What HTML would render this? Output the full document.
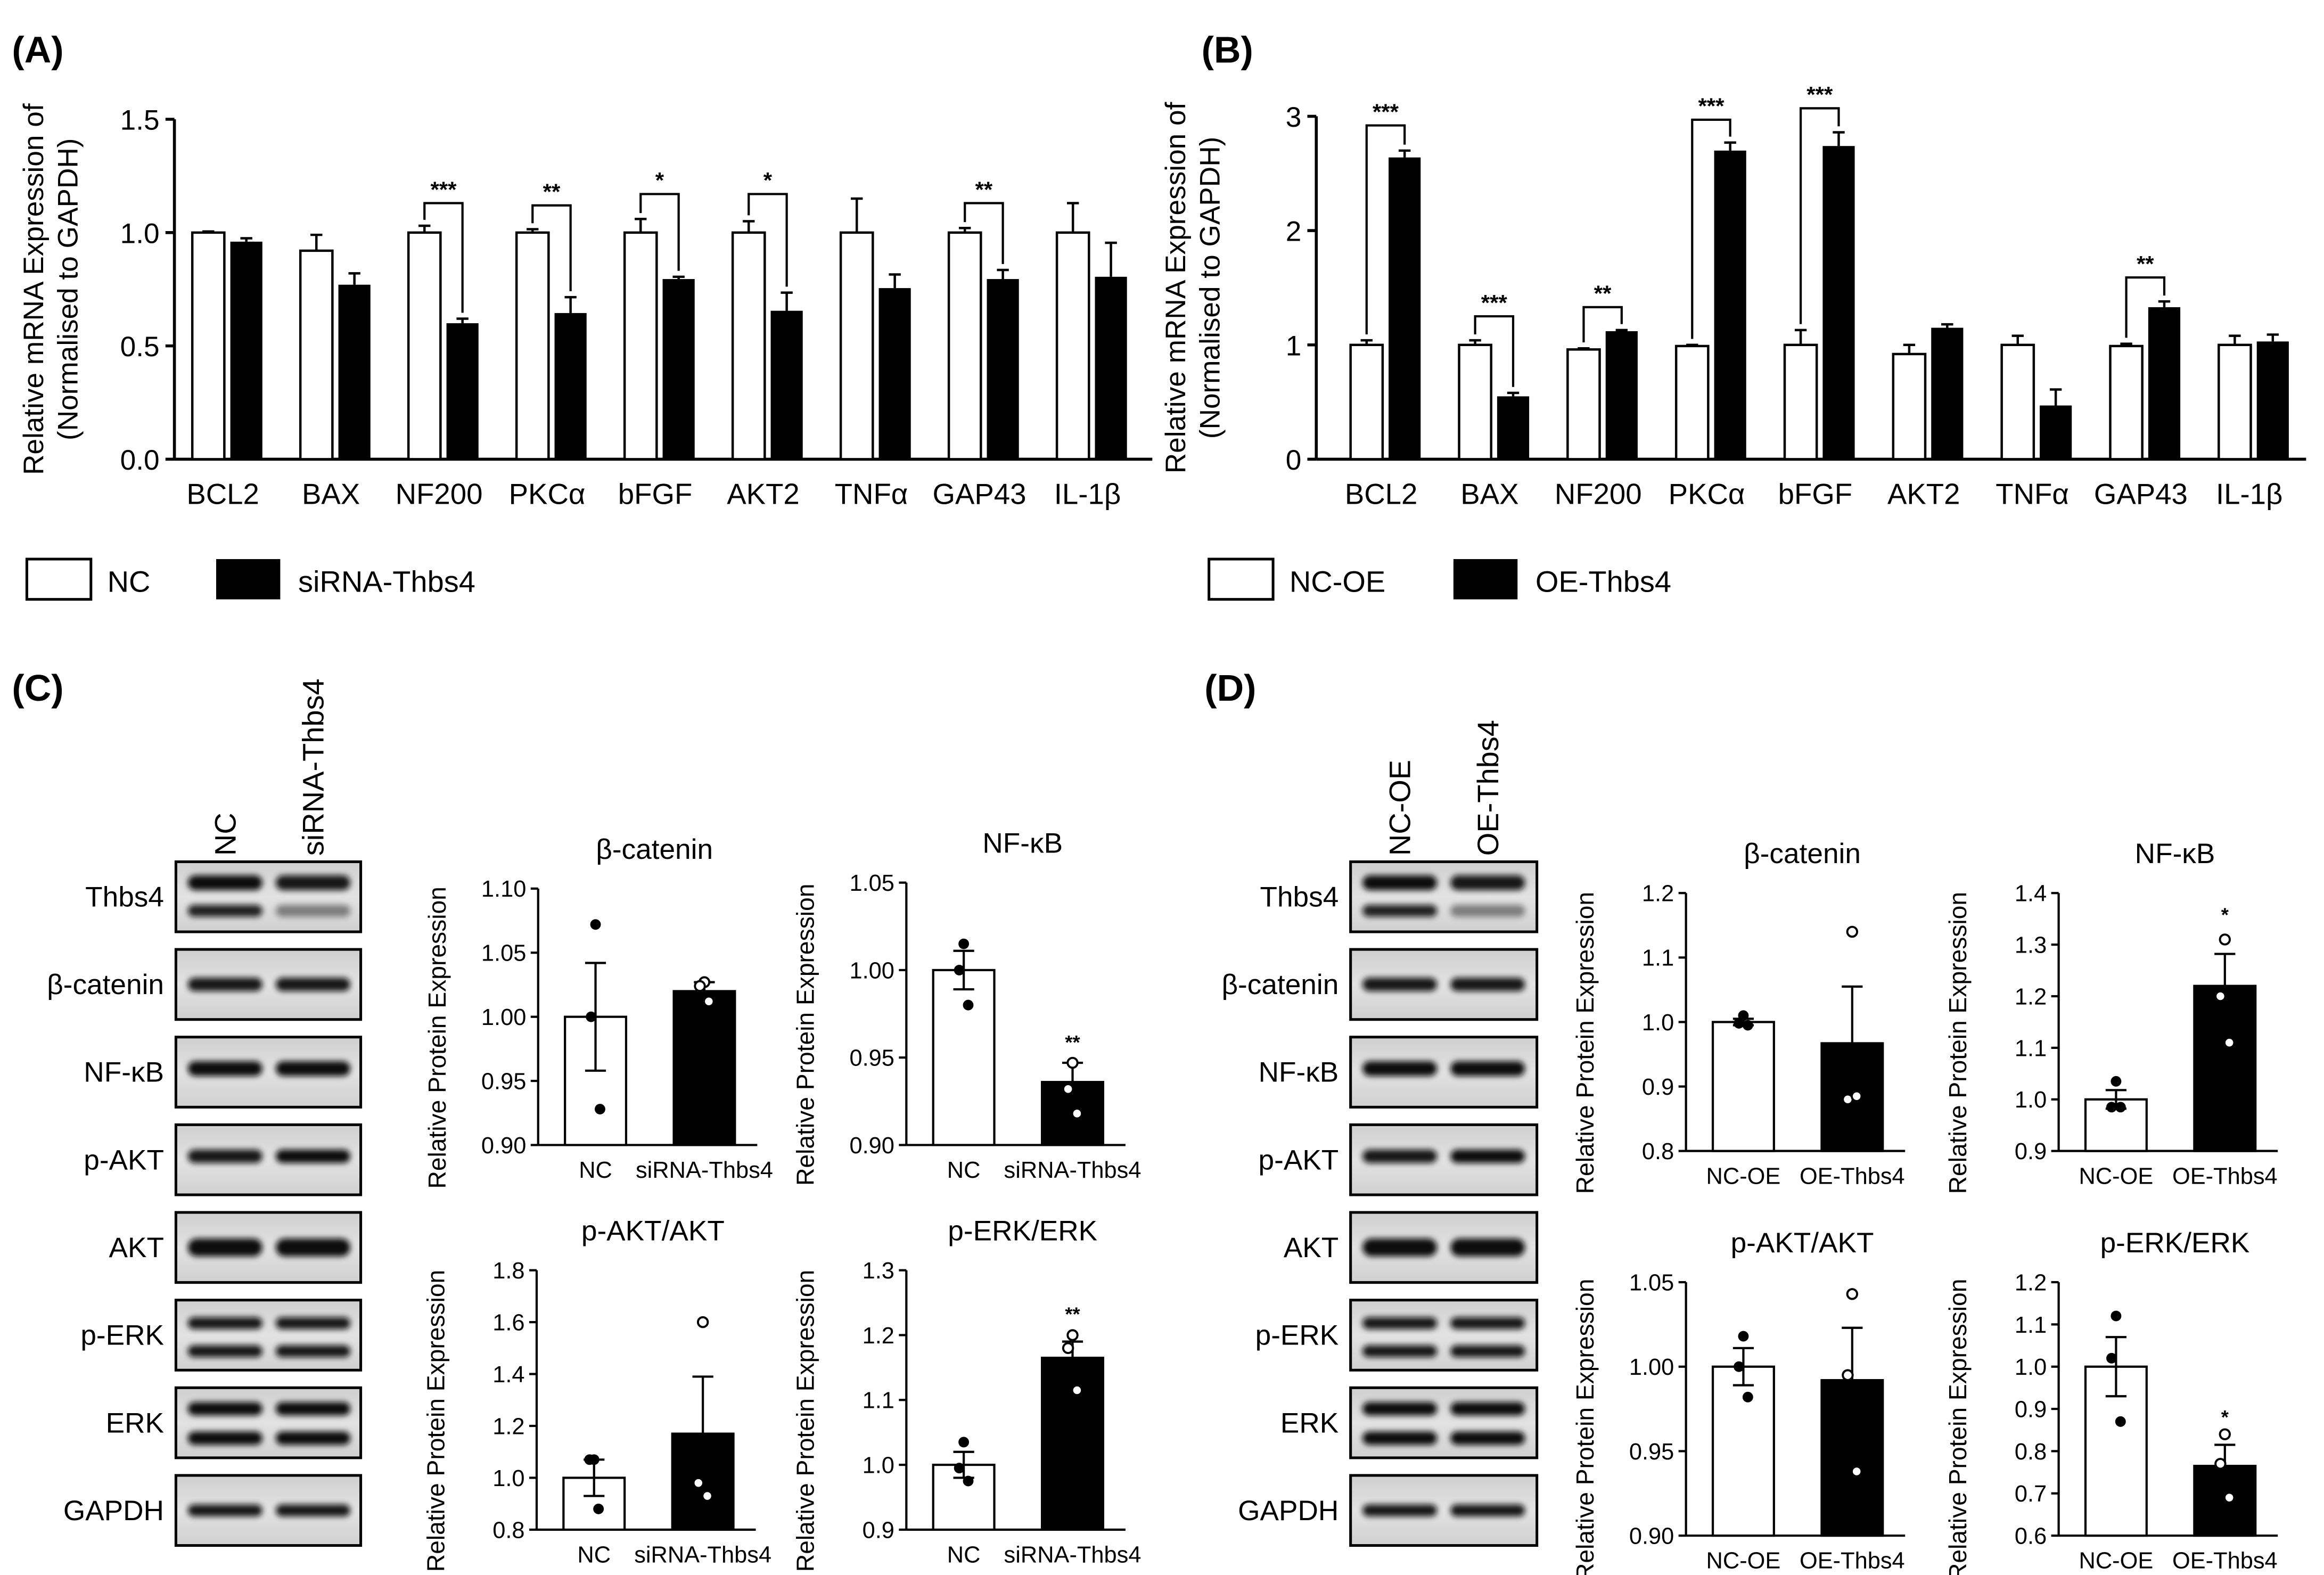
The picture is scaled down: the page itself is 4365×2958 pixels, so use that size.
<!DOCTYPE html>
<html><head><meta charset="utf-8"><style>
html,body{margin:0;padding:0;background:#fff;}
svg{display:block;font-family:"Liberation Sans",sans-serif;}
</style></head><body>
<svg id="fig" xmlns="http://www.w3.org/2000/svg" width="4365" height="2958" viewBox="0 0 1559 1056.4" preserveAspectRatio="none">
<defs>
<filter id="blur" x="-20%" y="-60%" width="140%" height="220%"><feGaussianBlur stdDeviation="1.9"/></filter>
<linearGradient id="blotbg" x1="0" y1="0" x2="0" y2="1"><stop offset="0" stop-color="#cfcfcf"/><stop offset="0.5" stop-color="#e2e2e2"/><stop offset="1" stop-color="#d0d0d0"/></linearGradient>
</defs>
<rect width="1559" height="1056.4" fill="#fff"/>
<text x="8" y="42" font-size="25" font-weight="bold">(A)</text>
<text x="806" y="42" font-size="25" font-weight="bold">(B)</text>
<text x="8" y="470" font-size="25" font-weight="bold">(C)</text>
<text x="808" y="470" font-size="25" font-weight="bold">(D)</text>
<g id="root"></g>
</svg>
<script>
// ---------- Panel A data ----------
const catsA = ["BCL2","BAX","NF200","PKCα","bFGF","AKT2","TNFα","GAP43","IL-1β"];
const ncA = [1.0,0.92,1.0,1.0,1.0,1.0,1.0,1.0,1.0];
const ncAErr = [0.005,0.07,0.03,0.015,0.06,0.05,0.15,0.02,0.13];
const siA = [0.96,0.77,0.60,0.645,0.795,0.655,0.755,0.795,0.805];
const siAErr = [0.015,0.05,0.02,0.07,0.01,0.08,0.06,0.04,0.15];
const sigAIdx = [2,3,4,5,7];
const sigALevel = [1.13,1.12,1.17,1.17,1.13];
const sigAText = ["***","**","*","*","**"];
const ticksA = [0,0.5,1.0,1.5];
const tickLabA = ["0.0","0.5","1.0","1.5"];
// ---------- Panel B data ----------
const catsB = ["BCL2","BAX","NF200","PKCα","bFGF","AKT2","TNFα","GAP43","IL-1β"];
const ncB = [1.0,1.0,0.96,0.99,1.0,0.92,1.0,0.99,1.0];
const ncBErr = [0.04,0.04,0.01,0.01,0.13,0.08,0.08,0.02,0.08];
const oeB = [2.64,0.55,1.12,2.70,2.74,1.15,0.47,1.33,1.03];
const oeBErr = [0.06,0.03,0.01,0.07,0.12,0.03,0.14,0.05,0.06];
const sigBIdx = [0,1,2,3,4,7];
const sigBLevel = [2.92,1.25,1.33,2.97,3.07,1.59];
const sigBText = ["***","***","**","***","***","**"];
const ticksB = [0,1,2,3];
const tickLabB = ["0","1","2","3"];
// ---------- Small charts (C, D) ----------
const cBetaMeans = [1.0,1.02], cBetaSem = [0.042,0.007], cBetaPts1 = [1.072,1.0,0.928], cBetaPts2 = [1.027,1.024,1.012];
const cBetaTicks = [0.90,0.95,1.00,1.05,1.10];
const cNfMeans = [1.0,0.936], cNfSem = [0.011,0.011], cNfPts1 = [1.015,1.0,0.98], cNfPts2 = [0.947,0.932,0.918];
const cNfTicks = [0.90,0.95,1.00,1.05];
const cAktMeans = [1.0,1.17], cAktSem = [0.07,0.22], cAktPts1 = [1.07,1.07,0.88], cAktPts2 = [1.6,0.98,0.93];
const cAktTicks = [0.8,1.0,1.2,1.4,1.6,1.8];
const cErkMeans = [1.0,1.165], cErkSem = [0.02,0.025], cErkPts1 = [1.035,0.995,0.975], cErkPts2 = [1.2,1.18,1.115];
const cErkTicks = [0.9,1.0,1.1,1.2,1.3];
const dBetaMeans = [1.0,0.967], dBetaSem = [0.005,0.088], dBetaPts1 = [1.01,0.998,0.995], dBetaPts2 = [1.14,0.88,0.885];
const dBetaTicks = [0.8,0.9,1.0,1.1,1.2];
const dNfMeans = [1.0,1.22], dNfSem = [0.018,0.062], dNfPts1 = [1.035,0.985,0.985], dNfPts2 = [1.31,1.2,1.11];
const dNfTicks = [0.9,1.0,1.1,1.2,1.3,1.4];
const dAktMeans = [1.0,0.992], dAktSem = [0.011,0.031], dAktPts1 = [1.018,1.0,0.982], dAktPts2 = [1.043,0.995,0.938];
const dAktTicks = [0.90,0.95,1.00,1.05];
const dErkMeans = [1.0,0.765], dErkSem = [0.07,0.05], dErkPts1 = [1.12,1.02,0.87], dErkPts2 = [0.84,0.77,0.69];
const dErkTicks = [0.6,0.7,0.8,0.9,1.0,1.1,1.2];
const blotLabels = ["Thbs4","β-catenin","NF-κB","p-AKT","AKT","p-ERK","ERK","GAPDH"];

const NS = "http://www.w3.org/2000/svg";
const root = document.getElementById('root');
function mk(tag, attrs, parent, txt){
  const e = document.createElementNS(NS, tag);
  for (const k in attrs) e.setAttribute(k, attrs[k]);
  if (txt !== undefined) e.textContent = txt;
  (parent || root).appendChild(e);
  return e;
}
function line(x1,y1,x2,y2,w,p){ return mk('line',{x1,y1,x2,y2,stroke:'#000','stroke-width':w||1.5},p); }

// ---------- grouped bar chart (A, B) ----------
function grouped(o){
  const g = mk('g',{});
  
  
  const y = v => o.y0 - (v - o.vmin) / (o.vmax - o.vmin) * (o.y0 - o.y1);
  const xw = i => o.x0 + o.pitch * i;
  const xb = i => o.x0 + o.pitch * i + o.bw + 4;
  line(o.axX, y(o.vmax), o.axX, o.y0, 2, g);
  line(o.axX, o.y0, o.axEnd, o.y0, 2, g);
  o.ticks.forEach((t, k) => {
    line(o.axX - 6, y(t), o.axX, y(t), 2, g);
    const tl = mk('text',{x:o.axX - 10, y:y(t) + 7, 'font-size':19, 'text-anchor':'end'}, g, o.tickLab[k]);
    
    
  });
  o.cats.forEach((c, i) => {
    const r1 = mk('rect',{x:xw(i), y:y(o.s1[i]), width:o.bw, height:o.y0 - y(o.s1[i]), fill:'#fff', stroke:'#000', 'stroke-width':1.6}, g);
    
    
    const cx1 = xw(i) + o.bw / 2;
    line(cx1, y(o.s1[i]), cx1, y(o.s1[i] + o.e1[i]), 1.6, g);
    line(cx1 - 4, y(o.s1[i] + o.e1[i]), cx1 + 4, y(o.s1[i] + o.e1[i]), 1.6, g);
    const r2 = mk('rect',{x:xb(i), y:y(o.s2[i]), width:o.bw, height:o.y0 - y(o.s2[i]), fill:'#000'}, g);
    
    
    const cx2 = xb(i) + o.bw / 2;
    line(cx2, y(o.s2[i]), cx2, y(o.s2[i] + o.e2[i]), 1.6, g);
    line(cx2 - 4, y(o.s2[i] + o.e2[i]), cx2 + 4, y(o.s2[i] + o.e2[i]), 1.6, g);
    const lb = mk('text',{x:(xw(i) + xb(i) + o.bw) / 2 - 3, y:o.y0 + 30, 'font-size':19.5, 'text-anchor':'middle'}, g, c);
    
    
  });
  o.sigIdx.forEach((i, k) => {
    const cx1 = xw(i) + o.bw / 2, cx2 = xb(i) + o.bw / 2, yt = y(o.sigLevel[k]);
    const l1 = y(o.s1[i] + o.e1[i]) - 4, l2 = y(o.s2[i] + o.e2[i]) - 4;
    mk('polyline',{points:`${cx1},${l1} ${cx1},${yt} ${cx2},${yt} ${cx2},${l2}`, fill:'none', stroke:'#000', 'stroke-width':1.5}, g);
    const st = mk('text',{x:(cx1 + cx2) / 2, y:yt - 4, 'font-size':15, 'text-anchor':'middle', 'font-weight':'bold'}, g, o.sigText[k]);
    
    
  });
  const ym = (o.y0 + y(o.vmax)) / 2;
  const t1 = mk('text',{x:0, y:0, 'font-size':19, 'text-anchor':'middle', transform:`translate(${o.axX - 88},${ym}) rotate(-90)`}, g, 'Relative mRNA Expression of');
  
  
  const t2 = mk('text',{x:0, y:0, 'font-size':19, 'text-anchor':'middle', transform:`translate(${o.axX - 65},${ym}) rotate(-90)`}, g, '(Normalised to GAPDH)');
  
  
  const lw = mk('rect',{x:o.legX, y:375, width:43, height:27, fill:'#fff', stroke:'#000', 'stroke-width':1.8}, g);
  
  
  const lt1 = mk('text',{x:o.legX + 54, y:397, 'font-size':20}, g, o.leg1);
  
  
  const lbk = mk('rect',{x:o.legX + o.leg2off, y:375, width:43, height:27, fill:'#000'}, g);
  
  
  const lt2 = mk('text',{x:o.legX + o.leg2off + 55, y:397, 'font-size':20}, g, o.leg2);
  
  
}
grouped({name:'chart-a', cats:catsA, s1:ncA, e1:ncAErr, s2:siA, e2:siAErr, sigIdx:sigAIdx, sigLevel:sigALevel, sigText:sigAText,
  ticks:ticksA, tickLab:tickLabA, vmin:0, vmax:1.5, y0:308, y1:80, axX:117, axEnd:773, x0:129, pitch:72.5, bw:21.5,
  legX:18, leg1:'NC', leg2:'siRNA-Thbs4', leg2off:127});
grouped({name:'chart-b', cats:catsB, s1:ncB, e1:ncBErr, s2:oeB, e2:oeBErr, sigIdx:sigBIdx, sigLevel:sigBLevel, sigText:sigBText,
  ticks:ticksB, tickLab:tickLabB, vmin:0, vmax:3, y0:308, y1:78, axX:883, axEnd:1547, x0:906, pitch:72.8, bw:21.5,
  legX:811, leg1:'NC-OE', leg2:'OE-Thbs4', leg2off:164});

// ---------- small dot-bar charts ----------
function small(o){
  const g = mk('g',{});
  
  
  const vmin = o.ticks[0], vmax = o.ticks[o.ticks.length - 1];
  const y = v => o.y0 - (v - vmin) / (vmax - vmin) * (o.y0 - o.y1);
  line(o.axX, o.y1, o.axX, o.y0, 1.5, g);
  line(o.axX, o.y0, o.axX + 147, o.y0, 1.5, g);
  o.ticks.forEach(t => {
    line(o.axX - 5, y(t), o.axX, y(t), 1.5, g);
    const tl = mk('text',{x:o.axX - 8, y:y(t) + 5.5, 'font-size':15.5, 'text-anchor':'end'}, g, t.toFixed(o.dec));
    
    
  });
  const bx = [o.axX + 18, o.axX + 91], bw = 41;
  [0,1].forEach(j => {
    const r = mk('rect',{x:bx[j], y:y(o.means[j]), width:bw, height:o.y0 - y(o.means[j]), fill:j ? '#000' : '#fff', stroke:'#000', 'stroke-width':1.5}, g);
    
    
    const cx = bx[j] + bw / 2;
    const hi = y(o.means[j] + o.sem[j]), lo = y(o.means[j] - o.sem[j]);
    line(cx, hi, cx, lo, 1.5, g);
    line(cx - 7, hi, cx + 7, hi, 1.5, g);
    line(cx - 7, lo, cx + 7, lo, 1.5, g);
    const pts = j ? o.p2 : o.p1;
    const off = [0, -6, 6];
    pts.forEach((p, k) => {
      const c = mk('circle',{cx:cx + off[k] * 0.5, cy:y(p), r:3.3, fill:j ? '#fff' : '#000', stroke:'#000', 'stroke-width':j ? 1.4 : 0.5}, g);
      
      
    });
    const xl = mk('text',{x:cx, y:o.y0 + 22, 'font-size':15.5, 'text-anchor':'middle'}, g, o.labs[j]);
    
    
  });
  if (o.sig) {
    const s = mk('text',{x:bx[1] + bw / 2, y:y(o.sigAt), 'font-size':13, 'text-anchor':'middle', 'font-weight':'bold'}, g, o.sig);
    
    
  }
  const tt = mk('text',{x:o.axX + 78, y:o.y1 - 20, 'font-size':19, 'text-anchor':'middle'}, g, o.title);
  
  
  const yt = mk('text',{x:0, y:0, 'font-size':16.5, 'text-anchor':'middle', transform:`translate(${o.axX - 62},${(o.y0 + o.y1) / 2 + 14}) rotate(-90)`}, g, 'Relative Protein Expression');
  
  
}
const labC = ['NC','siRNA-Thbs4'], labD = ['NC-OE','OE-Thbs4'];
small({name:'c-beta-catenin', axX:361, y1:596, y0:768, ticks:cBetaTicks, dec:2, means:cBetaMeans, sem:cBetaSem, p1:cBetaPts1, p2:cBetaPts2, labs:labC, title:'β-catenin'});
small({name:'c-nf-kb', axX:608, y1:592, y0:768, ticks:cNfTicks, dec:2, means:cNfMeans, sem:cNfSem, p1:cNfPts1, p2:cNfPts2, labs:labC, title:'NF-κB', sig:'**', sigAt:0.955});
small({name:'c-pakt-akt', axX:360, y1:852, y0:1026, ticks:cAktTicks, dec:1, means:cAktMeans, sem:cAktSem, p1:cAktPts1, p2:cAktPts2, labs:labC, title:'p-AKT/AKT'});
small({name:'c-perk-erk', axX:608, y1:852, y0:1026, ticks:cErkTicks, dec:1, means:cErkMeans, sem:cErkSem, p1:cErkPts1, p2:cErkPts2, labs:labC, title:'p-ERK/ERK', sig:'**', sigAt:1.222});
small({name:'d-beta-catenin', axX:1131, y1:599, y0:772, ticks:dBetaTicks, dec:1, means:dBetaMeans, sem:dBetaSem, p1:dBetaPts1, p2:dBetaPts2, labs:labD, title:'β-catenin'});
small({name:'d-nf-kb', axX:1381, y1:599, y0:772, ticks:dNfTicks, dec:1, means:dNfMeans, sem:dNfSem, p1:dNfPts1, p2:dNfPts2, labs:labD, title:'NF-κB', sig:'*', sigAt:1.345});
small({name:'d-pakt-akt', axX:1131, y1:860, y0:1030, ticks:dAktTicks, dec:2, means:dAktMeans, sem:dAktSem, p1:dAktPts1, p2:dAktPts2, labs:labD, title:'p-AKT/AKT'});
small({name:'d-perk-erk', axX:1381, y1:860, y0:1030, ticks:dErkTicks, dec:1, means:dErkMeans, sem:dErkSem, p1:dErkPts1, p2:dErkPts2, labs:labD, title:'p-ERK/ERK', sig:'*', sigAt:0.865});

// ---------- western blots ----------
const bandRows = [[0.3,0.7],[0.5],[0.45],[0.45],[0.5],[0.33,0.73],[0.3,0.72],[0.5]];
const bandH = [[10,8],[9],[10],[9],[12],[8,8],[9,9],[8]];
const bandInt1 = [[1,0.9],[0.95],[1],[0.95],[1],[0.95,0.95],[1,1],[0.95]];
const bandInt2 = [[0.95,0.45],[0.95],[1],[1],[1],[0.95,0.95],[1,1],[0.95]];
function blot(o){
  const g = mk('g',{});
  
  
  blotLabels.forEach((lab, i) => {
    const y0 = 578 + 58.8 * i;
    const b = mk('rect',{x:o.x0, y:y0, width:o.w, height:47, fill:'url(#blotbg)', stroke:'#000', 'stroke-width':1.8}, g);
    
    
    bandRows[i].forEach((f, k) => {
      [o.l1, o.l2].forEach((cx, j) => {
        const h = bandH[i][k], op = (j ? bandInt2 : bandInt1)[i][k];
        mk('rect',{x:cx - 25, y:y0 + 47 * f - h / 2, width:50, height:h, rx:h / 2, fill:'#111', opacity:op, filter:'url(#blur)'}, g);
      });
    });
    const t = mk('text',{x:o.x0 - 8, y:y0 + 30, 'font-size':19, 'text-anchor':'end'}, g, lab);
    
    
  });
  o.lanes.forEach((lab, j) => {
    const cx = j ? o.l2 : o.l1;
    const t = mk('text',{x:0, y:0, 'font-size':20, transform:`translate(${cx + 7},574) rotate(-90)`}, g, lab);
    
    
  });
}
blot({name:'blot-c', x0:118, w:124, l1:151, l2:210, lanes:['NC','siRNA-Thbs4']});
blot({name:'blot-d', x0:906, w:125, l1:939, l2:998, lanes:['NC-OE','OE-Thbs4']});
</script>
</body></html>
